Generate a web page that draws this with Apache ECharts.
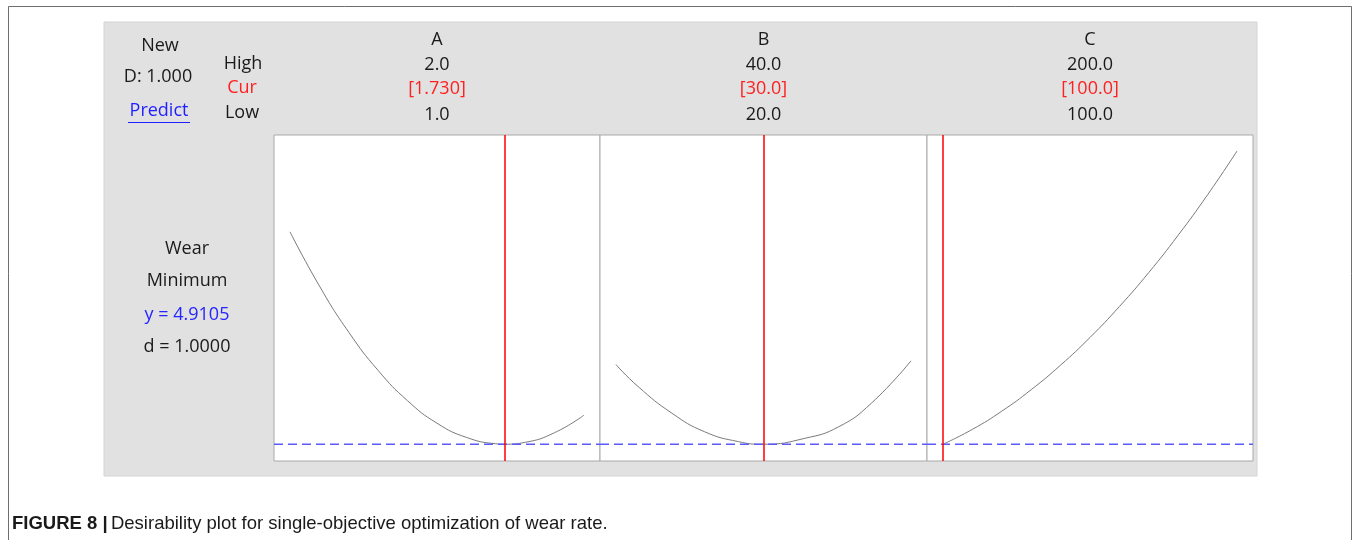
<!DOCTYPE html>
<html>
<head>
<meta charset="utf-8">
<script src="https://cdn.jsdelivr.net/npm/echarts@6/dist/echarts.min.js"></script>
<style>
html,body{margin:0;padding:0;background:#fff;}
#c{width:1354px;height:540px;}
</style>
</head>
<body>
<div id="c"></div>
<script>
// ---- data ----
const factorNames = ['A', 'B', 'C'];
const highLabels = ['2.0', '40.0', '200.0'];
const curLabels = ['[1.730]', '[30.0]', '[100.0]'];
const lowLabels = ['1.0', '20.0', '100.0'];
const lowValues = [1.0, 20.0, 100.0];
const highValues = [2.0, 40.0, 200.0];
const curValues = [1.730, 30.0, 100.0];
const predictedWear = 4.9105;
const curveA = [[1.0,13.90],[1.1,11.61],[1.2,9.65],[1.3,8.03],[1.4,6.75],[1.5,5.80],[1.6,5.20],[1.7,4.93],[1.73,4.91],[1.8,4.99],[1.9,5.40],[2.0,6.14]];
const curveB = [[20,8.28],[21.5,7.35],[23.8,6.22],[26,5.44],[28.3,5.02],[30,4.91],[32.8,5.16],[35.1,5.65],[37.3,6.64],[40,8.44]];
const curveC = [[100,4.91],[110,5.54],[120,6.31],[130,7.22],[140,8.26],[150,9.43],[160,10.74],[170,12.18],[180,13.76],[190,15.47],[200,17.32]];
const curves = [curveA, curveB, curveC];
const yMin = 4.2, yMax = 18;
const leftTexts = ['Wear', 'Minimum', 'y = 4.9105', 'd = 1.0000'];

// ---- layout ----
const panelLeft = [274, 600, 927];
const panelWidth = [326, 327, 326];
const gridTop = 135, gridHeight = 326;
const innerPad = 16;
const FONT = '"Open Sans", "Noto Sans", sans-serif';

const chart = echarts.init(document.getElementById('c'), null, {renderer: 'canvas'});

const grids = [], xAxes = [], yAxes = [], series = [];
for (let i = 0; i < 3; i++) {
  grids.push({left: panelLeft[i], top: gridTop, width: panelWidth[i], height: gridHeight,
    show: true, backgroundColor: '#ffffff', borderColor: '#a9a9a9', borderWidth: 1});
  const span = highValues[i] - lowValues[i];
  const pad = span * innerPad / (panelWidth[i] - 2 * innerPad);
  const xmin = lowValues[i] - pad, xmax = highValues[i] + pad;
  xAxes.push({type: 'value', gridIndex: i, min: xmin, max: xmax, show: false});
  yAxes.push({type: 'value', gridIndex: i, min: yMin, max: yMax, show: false});
  series.push({
    type: 'line', xAxisIndex: i, yAxisIndex: i, data: curves[i], smooth: true,
    showSymbol: false, symbol: 'none', silent: true,
    lineStyle: {color: '#7a7a7a', width: 1}, z: 3
  });
  // predicted response (blue dashed)
  series.push({
    type: 'line', xAxisIndex: i, yAxisIndex: i, silent: true, z: 5,
    showSymbol: false, symbol: 'none',
    data: [[xmin, predictedWear], [xmax, predictedWear]],
    lineStyle: {color: '#5a5aff', width: 1.5, type: [9, 5]}
  });
  // current setting (red vertical), drawn through the axis scales
  series.push({
    type: 'custom', xAxisIndex: i, yAxisIndex: i, silent: true, z: 10,
    data: [[curValues[i], yMin]],
    encode: {x: 0, y: 1},
    renderItem: function (params, api) {
      const bottom = api.coord([api.value(0), yMin]);
      const top = api.coord([api.value(0), yMax]);
      const x = Math.round(bottom[0]);
      return {type: 'line', silent: true,
        shape: {x1: x, y1: top[1], x2: x, y2: bottom[1]},
        style: {stroke: '#ff0000', lineWidth: 1.5}};
    }
  });
}

const graphics = [
  // page frame
  {type: 'polyline', shape: {points: [[8.5, 545], [8.5, 6.5], [1351.5, 6.5], [1351.5, 545]]},
   style: {stroke: '#6e6e6e', lineWidth: 1, fill: null}, z: 0},
  // grey panel
  {type: 'rect', shape: {x: 104, y: 22, width: 1153, height: 454},
   style: {fill: '#e1e1e1', stroke: '#d4d4d4', lineWidth: 1}, z: -10}
];
function txt(x, y, s, color, opts) {
  graphics.push(Object.assign({type: 'text', x: x, y: y, z: 10,
    style: {text: s, fill: color, font: '18px ' + FONT, textAlign: 'center', textVerticalAlign: 'middle'}}, opts || {}));
}
txt(160, 46, 'New', '#1a1a1a');
txt(158, 77, 'D: 1.000', '#1a1a1a');
txt(159, 111, 'Predict', '#1f1fff');
graphics.push({type: 'line', shape: {x1: 128, y1: 122.5, x2: 190, y2: 122.5}, style: {stroke: '#1f1fff', lineWidth: 1}, z: 10});
txt(243, 64, 'High', '#1a1a1a');
txt(242, 88, 'Cur', '#ff2020');
txt(242, 113, 'Low', '#1a1a1a');
for (let i = 0; i < 3; i++) {
  const cx = panelLeft[i] + panelWidth[i] / 2;
  txt(cx, 40, factorNames[i], '#1a1a1a');
  txt(cx, 65, highLabels[i], '#1a1a1a');
  txt(cx, 89, curLabels[i], '#ff2020');
  txt(cx, 115, lowLabels[i], '#1a1a1a');
}
const leftColors = ['#1a1a1a', '#1a1a1a', '#2525ff', '#1a1a1a'];
const leftY = [249, 281, 315, 347];
for (let k = 0; k < leftTexts.length; k++) txt(187, leftY[k], leftTexts[k], leftColors[k]);

// caption
graphics.push({type: 'text', x: 12, y: 524, z: 10,
  style: {rich: {
      b: {font: 'bold 18.5px "Liberation Sans", Arial, sans-serif', fill: '#1a1a1a'},
      n: {font: '18.5px "Liberation Sans", Arial, sans-serif', fill: '#1a1a1a'}
    },
    text: '{b|FIGURE 8 |} {n|Desirability plot for single-objective optimization of wear rate.}',
    textVerticalAlign: 'middle'}});

chart.setOption({
  animation: false,
  backgroundColor: '#ffffff',
  grid: grids, xAxis: xAxes, yAxis: yAxes, series: series,
  graphic: graphics
});
</script>
</body>
</html>
